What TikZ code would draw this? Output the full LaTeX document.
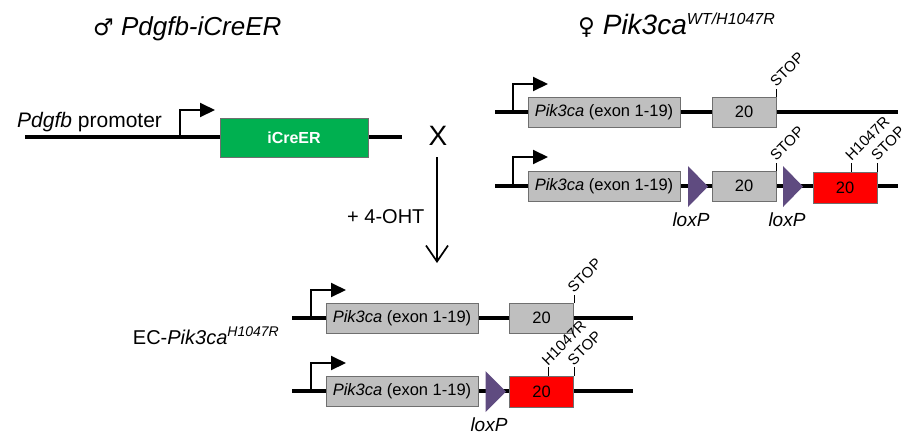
\documentclass[tikz,border=0pt]{standalone}
\usepackage{fontspec}
\setmainfont{Liberation Sans}
\newfontfamily\symfont{DejaVu Sans}
\usetikzlibrary{arrows.meta}
\definecolor{genegray}{HTML}{BFBFBF}
\definecolor{edgegray}{HTML}{6F6F6F}
\definecolor{cregreen}{HTML}{00B050}
\definecolor{loxpurple}{HTML}{5F4B80}
\definecolor{mutred}{HTML}{FF0000}
\newcommand\fsz[1]{\fontsize{#1}{#1}\selectfont}
\begin{document}
\begin{tikzpicture}[x=1pt,y=-1pt,
  dna/.style={line width=3.2pt},
  promo/.style={line width=2pt,-{Triangle[length=15pt,width=14pt]}},
  genebox/.style={draw=edgegray,line width=0.8pt,fill=genegray,minimum height=30pt,inner sep=0pt,font=\fsz{16.5}},
  redbox/.style={genebox,fill=mutred},
  lox/.style={fill=loxpurple},
  tick/.style={line width=0.8pt},
  site/.style={rotate=45,anchor=south west,inner sep=0.5pt,font=\fsz{15}},
  loxlbl/.style={anchor=base,inner sep=0pt,font=\fsz{19}\itshape},
  bigarrow/.style={line width=1.7pt,-{Straight Barb[length=16pt,width=22pt,line width=1.7pt]}},
]
\useasboundingbox (0,0) rectangle (912,445);

% ---------- titles ----------
\node[anchor=base west,inner sep=0pt,font=\fsz{26}] (tmale) at (93,35)
  {{\symfont\fsz{23}♂} \textit{Pdgfb-iCreER}};
\node[anchor=base west,inner sep=0pt,font=\fsz{28}] (tfemale) at (578,34)
  {{\symfont\fsz{23}♀} \textit{Pik3ca}\raisebox{10pt}{\fsz{16}\itshape WT/H1047R}};

% ---------- Pdgfb-iCreER ----------
\coordinate (ls) at (25,137);
\coordinate (le) at (402,137);
\draw[dna] (ls) -- (le);
\coordinate (lp) at (180,137);
\coordinate (lpt) at (215,110);
\draw[promo] (lp) |- (lpt);
\node[draw=edgegray,line width=0.8pt,fill=cregreen,minimum width=148pt,minimum height=39pt,
  inner sep=0pt,text=white,font=\fsz{16}\bfseries] (cre) at (294,137.5) {iCreER};
\node[anchor=base west,inner sep=0pt,font=\fsz{21}] (prom) at (17,127) {\textit{Pdgfb} promoter};

% ---------- cross ----------
\node[inner sep=0pt,font=\fsz{28}] (cross) at (438,136) {X};
\coordinate (a1) at (437,157);
\coordinate (a2) at (437,263);
\draw[bigarrow] (a1) -- (a2);
\node[anchor=base west,inner sep=0pt,font=\fsz{20}] (oht) at (347,223) {+ 4-OHT};

% ---------- Pik3ca WT allele (top right) ----------
\coordinate (r1s) at (495,112);
\coordinate (r1e) at (898,112);
\draw[dna] (r1s) -- (r1e);
\coordinate (r1p) at (513,112);
\coordinate (r1pt) at (548,84);
\draw[promo] (r1p) |- (r1pt);
\node[genebox,minimum width=152pt] (r1ex) at (604,112) {\textit{Pik3ca} (exon 1-19)};
\node[genebox,minimum width=64pt] (r1e20) at (744,112) {20};
\draw[tick] (r1e20.north east) -- ++(0,-8) coordinate (r1stop);
\node[site] (r1stoplbl) at (r1stop) {STOP};

% ---------- Pik3ca floxed H1047R allele (top right) ----------
\coordinate (r2s) at (495,186);
\coordinate (r2e) at (898,186);
\draw[dna] (r2s) -- (r2e);
\coordinate (r2p) at (513,186);
\coordinate (r2pt) at (548,157);
\draw[promo] (r2p) |- (r2pt);
\node[genebox,minimum width=152pt] (r2ex) at (604,186) {\textit{Pik3ca} (exon 1-19)};
\fill[lox] (688,166) -- (708,186.5) -- (688,207) -- cycle;
\node[genebox,minimum width=64pt] (r2e20) at (744,186) {20};
\draw[tick] (r2e20.north east) -- ++(0,-8) coordinate (r2stop);
\node[site] (r2stoplbl) at (r2stop) {STOP};
\fill[lox] (783,166) -- (803,186.5) -- (783,207) -- cycle;
\node[redbox,minimum width=64pt,minimum height=31pt] (r2red) at (845,187.5) {20};
\draw[tick] ([xshift=39pt]r2red.north west) -- ++(0,-9) coordinate (r2mut);
\node[site] (r2mutlbl) at (r2mut) {H1047R};
\draw[tick] (r2red.north east) -- ++(0,-9) coordinate (r2stop2);
\node[site] (r2stop2lbl) at (r2stop2) {STOP};
\node[loxlbl] (lox1) at (691,226) {loxP};
\node[loxlbl] (lox2) at (787,226) {loxP};

% ---------- EC-Pik3ca H1047R (bottom) ----------
\node[anchor=base east,inner sep=0pt,font=\fsz{20}] (ec) at (279,344)
  {EC-\textit{Pik3ca}\raisebox{8pt}{\fsz{14}\itshape H1047R}};

\coordinate (b1s) at (292,318);
\coordinate (b1e) at (633,318);
\draw[dna] (b1s) -- (b1e);
\coordinate (b1p) at (311,318);
\coordinate (b1pt) at (346,290);
\draw[promo] (b1p) |- (b1pt);
\node[genebox,minimum width=152pt] (b1ex) at (402,318) {\textit{Pik3ca} (exon 1-19)};
\node[genebox,minimum width=64pt] (b1e20) at (541.5,318) {20};
\draw[tick] (b1e20.north east) -- ++(0,-8) coordinate (b1stop);
\node[site] (b1stoplbl) at (b1stop) {STOP};

\coordinate (b2s) at (292,391);
\coordinate (b2e) at (633,391);
\draw[dna] (b2s) -- (b2e);
\coordinate (b2p) at (311,391);
\coordinate (b2pt) at (346,363);
\draw[promo] (b2p) |- (b2pt);
\node[genebox,minimum width=152pt] (b2ex) at (402,391) {\textit{Pik3ca} (exon 1-19)};
\fill[lox] (485.5,371) -- (506,391.5) -- (485.5,412) -- cycle;
\node[redbox,minimum width=64pt,minimum height=31pt] (b2red) at (541.5,392) {20};
\draw[tick] ([xshift=39pt]b2red.north west) -- ++(0,-9) coordinate (b2mut);
\node[site] (b2mutlbl) at (b2mut) {H1047R};
\draw[tick] (b2red.north east) -- ++(0,-9) coordinate (b2stop);
\node[site] (b2stoplbl) at (b2stop) {STOP};
\node[loxlbl] (lox3) at (489,431) {loxP};
\end{tikzpicture}
\end{document}
